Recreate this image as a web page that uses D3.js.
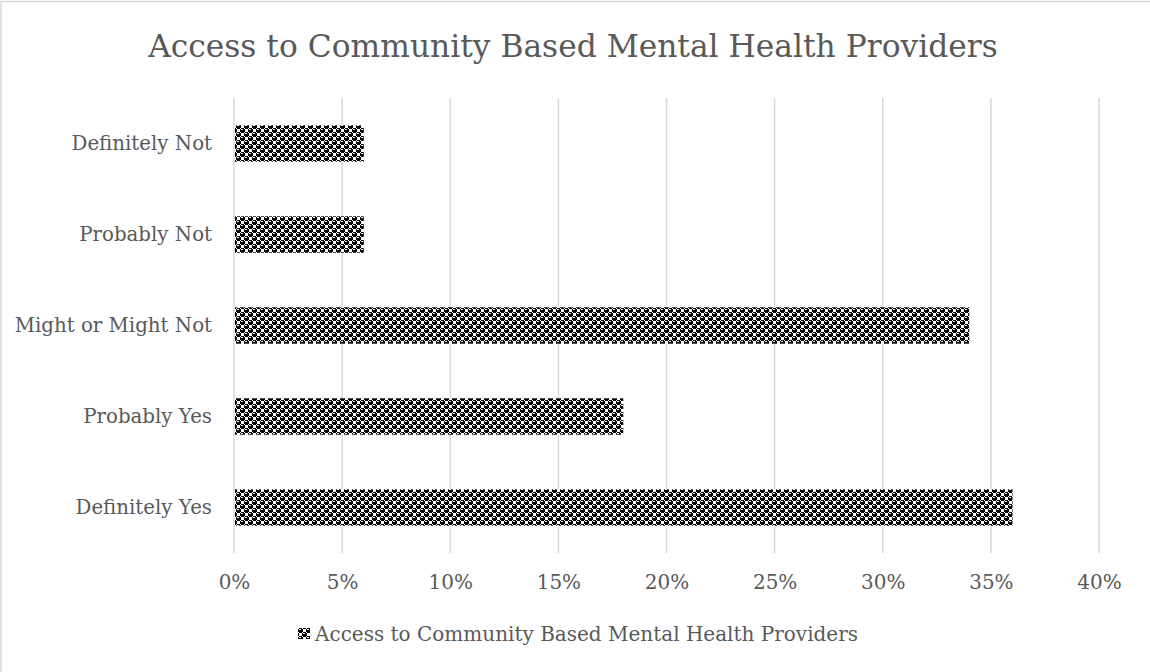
<!DOCTYPE html>
<html>
<head>
<meta charset="utf-8">
<script src="https://cdn.jsdelivr.net/npm/d3@7"></script>
<style>
  html, body { margin: 0; padding: 0; background: #fff; }
  svg { display: block; }
  text { font-family: "DejaVu Serif", "Liberation Serif", serif; fill: #595959; }
</style>
</head>
<body>
<script>
// Survey responses and their share of respondents
const categories = ["Definitely Not", "Probably Not", "Might or Might Not", "Probably Yes", "Definitely Yes"];
const shares = [0.06, 0.06, 0.34, 0.18, 0.36];
const tickValues = [0, 0.05, 0.10, 0.15, 0.20, 0.25, 0.30, 0.35, 0.40];
const seriesName = "Access to Community Based Mental Health Providers";
const chartTitle = "Access to Community Based Mental Health Providers";

const W = 1150, H = 672;
const plot = { left: 234, right: 1099, top: 98, bottom: 553 };

const svg = d3.select("body").append("svg")
  .attr("width", W).attr("height", H);

// Sphere-style 8x8 hatch tile (one row per byte, 1 = black)
const hatchRows = [0x77, 0x98, 0xf8, 0xf8, 0x77, 0x89, 0x8f, 0x8f];
const defs = svg.append("defs");
const pat = defs.append("pattern")
  .attr("id", "hatch")
  .attr("patternUnits", "userSpaceOnUse")
  .attr("width", 8).attr("height", 8);
pat.append("rect").attr("width", 8).attr("height", 8).attr("fill", "#fff");
hatchRows.forEach((bits, row) => {
  for (let col = 0; col < 8; col++) {
    if (bits & (0x80 >> col)) {
      pat.append("rect").attr("x", col).attr("y", row).attr("width", 1).attr("height", 1).attr("fill", "#000");
    }
  }
});

// Chart frame
svg.append("rect")
  .attr("x", 1).attr("y", 1.5).attr("width", W + 10).attr("height", H + 10)
  .attr("fill", "#fff").attr("stroke", "#d9d9d9").attr("stroke-width", 1.5);

const x = d3.scaleLinear().domain([0, 0.40]).range([plot.left, plot.right]);
const y = d3.scaleBand().domain(categories).range([plot.top, plot.bottom]).paddingInner(0.6).paddingOuter(0.3);

// Vertical gridlines
svg.append("g").selectAll("line").data(tickValues).join("line")
  .attr("x1", d => x(d)).attr("x2", d => x(d))
  .attr("y1", plot.top).attr("y2", plot.bottom)
  .attr("stroke", "#d9d9d9").attr("stroke-width", 1.5);

// Bars
svg.append("g").selectAll("rect").data(categories).join("rect")
  .attr("x", x(0) + 1)
  .attr("y", d => y(d))
  .attr("width", (d, i) => x(shares[i]) - x(0) - 1)
  .attr("height", y.bandwidth())
  .attr("fill", "url(#hatch)");

// X axis labels
const xAxis = d3.axisBottom(x).tickValues(tickValues).tickFormat(d3.format(".0%")).tickSize(0).tickPadding(22);
const gx = svg.append("g").attr("transform", `translate(0,${plot.bottom})`).call(xAxis);
gx.select(".domain").remove();
gx.selectAll("text").attr("font-size", 20).attr("font-family", null).attr("fill", "#595959");

// Y axis labels
const yAxis = d3.axisLeft(y).tickSize(0).tickPadding(22);
const gy = svg.append("g").attr("transform", `translate(${plot.left},0)`).call(yAxis);
gy.select(".domain").remove();
gy.selectAll("text").attr("font-size", 19.8).attr("font-family", null).attr("fill", "#595959");

// Title
svg.append("text")
  .attr("x", 573).attr("y", 57)
  .attr("text-anchor", "middle")
  .attr("font-size", 31.3)
  .text(chartTitle);

// Legend
const leg = svg.append("g").attr("transform", "translate(298,628)");
leg.append("rect").attr("width", 12).attr("height", 11).attr("fill", "url(#hatch)");
leg.append("text").attr("x", 17).attr("y", 13).attr("font-size", 20).text(seriesName);
</script>
</body>
</html>
